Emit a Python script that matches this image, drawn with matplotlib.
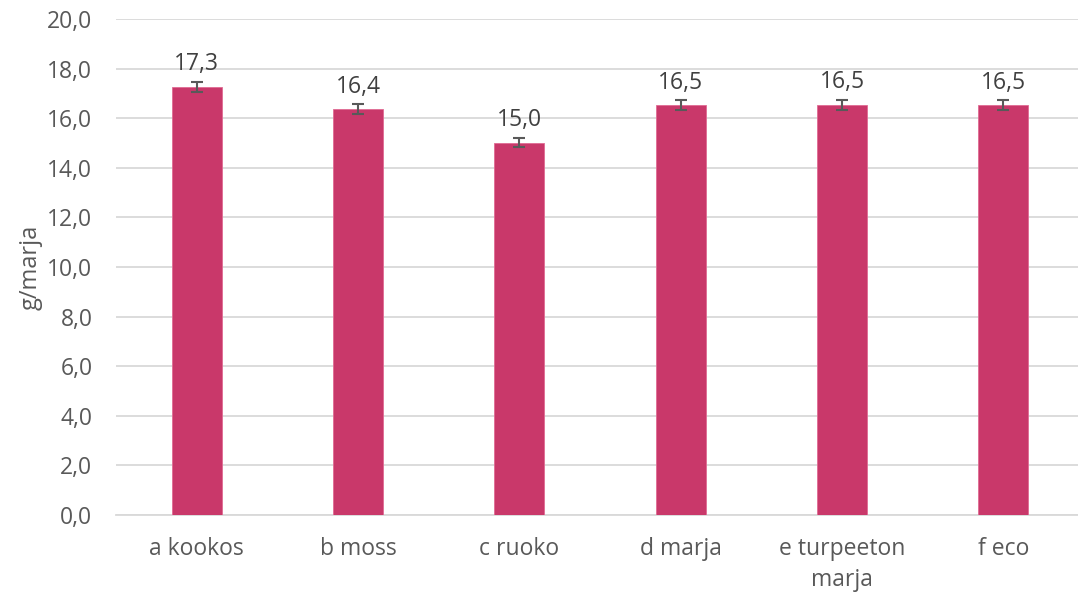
import matplotlib
matplotlib.use("Agg")
import matplotlib.pyplot as plt
import numpy as np

categories = ["a kookos", "b moss", "c ruoko", "d marja", "e turpeeton\nmarja", "f eco"]
values = [17.27, 16.37, 15.02, 16.53, 16.54, 16.52]
errors = [0.2, 0.19, 0.18, 0.2, 0.2, 0.2]
labels = ["17,3", "16,4", "15,0", "16,5", "16,5", "16,5"]
yticks = [0, 2, 4, 6, 8, 10, 12, 14, 16, 18, 20]

plt.rcParams['font.family'] = ['Open Sans', 'DejaVu Sans']

fig = plt.figure(figsize=(10.78, 5.95), dpi=100)
ax = fig.add_axes([116/1078, 1 - 515/595, (1084 - 116)/1078, (515 - 19)/595])

x = np.arange(len(categories))
ax.bar(x, values, width=0.31, color="#C9386A", edgecolor="#E06A93", linewidth=0.6, zorder=3)
ax.errorbar(x, values, yerr=errors, fmt="none", ecolor="#595959", elinewidth=1.5,
            capsize=4.3, capthick=1.5, zorder=4)
for xi, v, e, lab in zip(x, values, errors, labels):
    ax.annotate(lab, (xi, v + e), xytext=(0, 4), textcoords="offset points",
                ha="center", va="bottom", fontsize=16.5, color="#404040")

ax.set_xlim(-0.5, len(categories) - 0.5)
ax.set_ylim(0, 20)
ax.set_yticks(yticks)
ax.set_yticklabels([f"{t:.1f}".replace(".", ",") for t in yticks])
ax.set_xticks(x)
ax.set_xticklabels(categories, linespacing=1.35)
ax.tick_params(axis="both", length=0, labelsize=16.5, labelcolor="#595959")
ax.tick_params(axis="y", pad=17)
ax.tick_params(axis="x", pad=16)
ax.grid(axis="y", color="#D9D9D9", linewidth=1.3, zorder=0)
for s in ["top", "right", "left"]:
    ax.spines[s].set_visible(False)
ax.spines["bottom"].set_color("#D9D9D9")
ax.spines["bottom"].set_linewidth(1.3)
ax.set_ylabel("g/marja", fontsize=17, color="#595959", labelpad=3)

fig.savefig("out.png", dpi=100)
